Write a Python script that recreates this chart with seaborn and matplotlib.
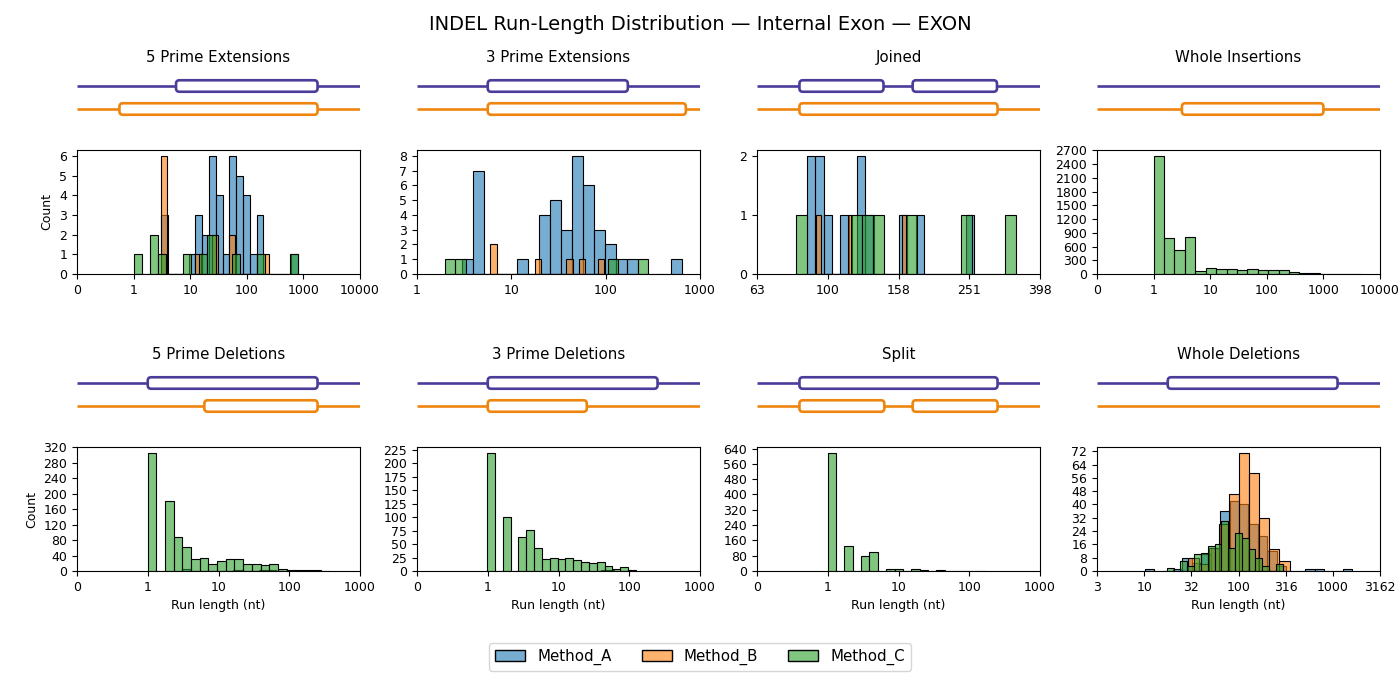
#!/usr/bin/env python3
"""INDEL run-length histograms (log10 run length) with exon schematics, one panel per event type."""

import matplotlib

matplotlib.use("Agg")

import matplotlib.pyplot as plt
import matplotlib.patches as mpatches
from matplotlib.colors import to_rgba
from matplotlib.ticker import FuncFormatter, MaxNLocator
import numpy as np
import pandas as pd
import seaborn as sns

# ── Data ──────────────────────────────────────────────────────────────────

PANELS = [
    "5 Prime Extensions", "3 Prime Extensions", "Joined", "Whole Insertions",
    "5 Prime Deletions", "3 Prime Deletions", "Split", "Whole Deletions",
]
METHODS = ["Method_A", "Method_B", "Method_C"]

# histogram bins in log10(run length): (first edge, bin width, counts per bin)
EXT5_A = (0.49, 0.1203, [3, 0, 0, 0, 1, 3, 2, 6, 4, 1, 6, 5, 4, 1, 3, 0, 0, 0, 0, 1])
EXT5_B = (0.49, 0.100, [6, 0, 0, 0, 0, 0, 1, 0, 0, 2, 0, 0, 2, 0, 0, 0, 0, 0, 1])
EXT5_C = (0.00, 0.145, [1, 0, 2, 1, 0, 0, 1, 0, 1, 2, 0, 0, 1, 0, 0, 1, 0, 0, 0, 1])

EXT3_A = (0.4775, 0.1167, [1, 7, 0, 0, 0, 1, 0, 4, 5, 3, 8, 6, 3, 2, 1, 1, 0, 0, 0, 1])
EXT3_B = (0.778, 0.0672, [2, 0, 0, 0, 0, 0, 0, 1, 0, 0, 0, 0, 1, 0, 1, 0, 0, 1])
EXT3_C = (0.30, 0.1075, [1, 1, 0, 0, 0, 0, 0, 0, 0, 0, 0, 0, 0, 0, 0, 0, 1, 0, 0, 1])

JOIN_A = (1.9415, 0.0236, [2, 2, 1, 0, 1, 0, 2, 1, 0, 0, 0, 1, 0, 1, 0, 0, 0, 0, 0, 1])
JOIN_B = (1.968, 0.01274, [1, 0, 0, 0, 0, 0, 0, 1, 0, 0, 0, 0, 0, 0, 0, 0, 0, 0, 0, 1])
JOIN_C = (1.9094, 0.0311, [1, 0, 0, 0, 0, 1, 1, 1, 0, 0, 1, 0, 0, 0, 0, 1, 0, 0, 0, 1])

WINS_C = (0.00, 0.184, [2580, 790, 515, 805, 60, 125, 105, 105, 85, 100,
                        85, 85, 85, 35, 12, 12, 10, 10, 10, 3])

DEL5_A = (0.49, 0.12, [5, 0, 0, 0, 0, 0, 2, 1, 0, 2, 3, 1])
DEL5_C = (0.00, 0.1226, [305, 0, 182, 88, 62, 31, 34, 18, 27, 31, 31,
                         18, 18, 15, 19, 5, 2, 2, 2, 2, 1])

DEL3_A = (1.60, 0.09, [1, 1])
DEL3_C = (-0.01, 0.1108, [219, 0, 101, 0, 63, 76, 43, 22, 24, 22, 24,
                          21, 17, 15, 17, 9, 3, 7, 1])

SPLIT_C = (0.00, 0.118, [617, 0, 130, 0, 78, 100, 0, 10, 10, 0, 10, 5, 0, 5, 1, 1, 1, 1, 1])

WDEL_A = (1.006, 0.100, [1, 0, 0, 1, 8, 5, 10, 14, 36, 42, 40, 28, 21, 12, 3,
                         0, 0, 1, 1, 0, 0, 1])
WDEL_B = (1.469, 0.1072, [8, 4, 14, 28, 46, 71, 59, 32, 13, 6])
WDEL_C = (1.239, 0.0724, [2, 0, 6, 3, 10, 11, 15, 16, 30, 14, 23, 20, 13, 8, 3, 0, 4])

HISTS = [
    [EXT5_A, EXT5_B, EXT5_C],
    [EXT3_A, EXT3_B, EXT3_C],
    [JOIN_A, JOIN_B, JOIN_C],
    [None, None, WINS_C],
    [DEL5_A, None, DEL5_C],
    [DEL3_A, None, DEL3_C],
    [None, None, SPLIT_C],
    [WDEL_A, WDEL_B, WDEL_C],
]

# exon schematics (fraction of panel width): reference on top, event below
REF_EXONS = [
    [(0.35, 0.85)], [(0.25, 0.745)], [(0.15, 0.447), (0.55, 0.848)], [],
    [(0.25, 0.85)], [(0.25, 0.85)], [(0.15, 0.85)], [(0.25, 0.85)],
]
ALT_EXONS = [
    [(0.15, 0.85)], [(0.25, 0.95)], [(0.15, 0.85)], [(0.30, 0.80)],
    [(0.45, 0.85)], [(0.25, 0.60)], [(0.15, 0.45), (0.55, 0.85)], [],
]

# x axis (log10) limits and tick step per panel
X_LIMS = [(-1, 4), (0, 3), (1.8, 2.6), (-1, 4), (-1, 3), (-1, 3), (-1, 3), (0.5, 3.5)]
X_STEPS = [1, 1, 0.2, 1, 1, 1, 1, 0.5]

# ── Style / layout ────────────────────────────────────────────────────────

COLORS = ["#1f77b4", "#ff7f0e", "#2ca02c"]
ALPHA = 0.6
REF_COLOR = "#4a3d9a"
ALT_COLOR = "#ee850f"

W, H = 1400, 680
COL_LEFT = [77, 417, 757, 1097]
AX_W = 283
HIST_TOP = [150, 447]
HIST_H = 124
DIAG_TOP = [72, 369]
DIAG_H = 50
DIAG_YLIM = (-0.565, 1.609)


def px_rect(left, top, width, height):
    return [left / W, 1 - (top + height) / H, width / W, height / H]


def draw_diagram(ax, ref_exons, alt_exons, title):
    ax.set_xlim(0, 1)
    ax.set_ylim(*DIAG_YLIM)
    ax.axis("off")
    ax.set_title(title, fontsize=10.8, pad=7)
    aspect = (DIAG_YLIM[1] - DIAG_YLIM[0]) / DIAG_H * AX_W
    h = 0.5
    for y, color, exons in ((1, REF_COLOR, ref_exons), (0, ALT_COLOR, alt_exons)):
        ax.plot([0, 1], [y, y], color=color, lw=1.9, solid_capstyle="butt", zorder=1)
        for x0, x1 in exons:
            box = mpatches.FancyBboxPatch(
                (x0, y - h / 2), x1 - x0, h,
                boxstyle="round,pad=0,rounding_size=0.012",
                mutation_aspect=aspect,
                facecolor="white", edgecolor=color, linewidth=1.9, zorder=2,
            )
            ax.add_patch(box)


def draw_hist(ax, series, xlim, step):
    for spec, color in zip(series, COLORS):
        if spec is None:
            continue
        start, width, counts = spec
        edges = start + width * np.arange(len(counts) + 1)
        df = pd.DataFrame({
            "log_len": (edges[:-1] + edges[1:]) / 2,
            "n": np.asarray(counts, dtype=float),
        })
        # bins as a plain list: seaborn compares bins to "auto" when weights are used
        sns.histplot(
            data=df, x="log_len", weights="n", bins=edges.tolist(), color=color,
            alpha=ALPHA, edgecolor="black", linewidth=0.8, ax=ax,
        )
    ax.set_xlim(*xlim)
    ax.set_xticks(np.arange(xlim[0], xlim[1] + step / 2, step))
    ax.xaxis.set_major_formatter(FuncFormatter(lambda v, p: f"{10 ** v:.0f}"))
    ax.yaxis.set_major_locator(MaxNLocator(integer=True))
    ax.tick_params(labelsize=9)
    ax.set_ylabel("")
    ax.set_xlabel("")


def main():
    fig = plt.figure(figsize=(W / 100, H / 100), dpi=100)
    fig.suptitle("INDEL Run-Length Distribution — Internal Exon — EXON", fontsize=14, y=0.978)

    for i, title in enumerate(PANELS):
        row, col = divmod(i, 4)
        dax = fig.add_axes(px_rect(COL_LEFT[col], DIAG_TOP[row], AX_W, DIAG_H))
        draw_diagram(dax, REF_EXONS[i], ALT_EXONS[i], title)

        hax = fig.add_axes(px_rect(COL_LEFT[col], HIST_TOP[row], AX_W, HIST_H))
        draw_hist(hax, HISTS[i], X_LIMS[i], X_STEPS[i])
        if col == 0:
            hax.set_ylabel("Count", fontsize=9)
        if row == 1:
            hax.set_xlabel("Run length (nt)", fontsize=9)

    handles = [
        mpatches.Patch(facecolor=to_rgba(c, ALPHA), edgecolor="black", label=m)
        for c, m in zip(COLORS, METHODS)
    ]
    fig.legend(handles=handles, loc="lower center", ncol=3, fontsize=10.8,
               bbox_to_anchor=(0.5, 0.002))

    fig.savefig("out.png", dpi=100)
    plt.close(fig)


if __name__ == "__main__":
    main()
